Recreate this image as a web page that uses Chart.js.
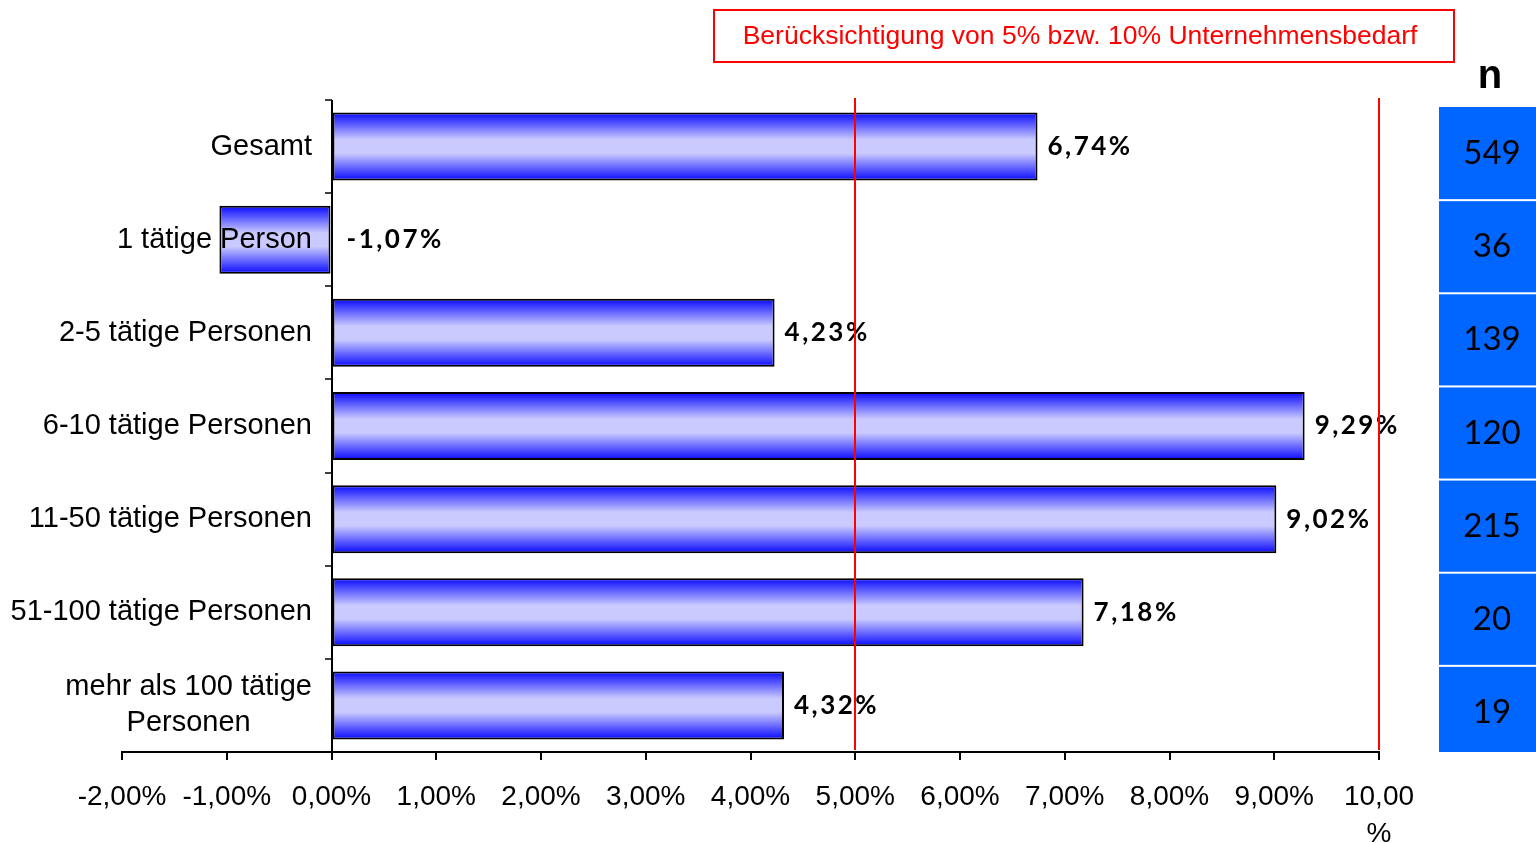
<!DOCTYPE html>
<html>
<head>
<meta charset="utf-8">
<script src="https://cdn.jsdelivr.net/npm/chart.js@4"></script>
<style>
  body { margin: 0; background: #fff; }
  #wrap { width: 1536px; height: 843px; }
</style>
</head>
<body>
<div id="wrap"><canvas id="myChart"></canvas></div>
<script>
const categories = ['Gesamt', '1 tätige Person', '2-5 tätige Personen', '6-10 tätige Personen',
  '11-50 tätige Personen', '51-100 tätige Personen', ['mehr als 100 tätige', 'Personen']];
const values = [6.74, -1.07, 4.23, 9.29, 9.02, 7.18, 4.32];
const counts = [549, 36, 139, 120, 215, 20, 19];
const thresholds = [5, 10];
const noteText = 'Berücksichtigung von 5% bzw. 10% Unternehmensbedarf';

const BAR_PCT = 0.73;

function fmt(v) {
  return v.toFixed(2).replace('.', ',') + '%';
}

function barFill(ctx) {
  const chart = ctx.chart;
  const area = chart.chartArea;
  if (!area || ctx.dataIndex === undefined) return '#3333ff';
  const cat = (area.bottom - area.top) / categories.length;
  const h = cat * BAR_PCT;
  const y = chart.scales.y.getPixelForValue(ctx.dataIndex);
  const g = chart.ctx.createLinearGradient(0, y - h / 2, 0, y + h / 2);
  g.addColorStop(0, '#0808ff');
  g.addColorStop(0.4, '#cacaff');
  g.addColorStop(0.6, '#cacaff');
  g.addColorStop(1, '#0808ff');
  return g;
}

const extrasPlugin = {
  id: 'extrasPlugin',
  afterDatasetsDraw(chart) {
    const { ctx, chartArea } = chart;
    const xs = chart.scales.x;
    const ys = chart.scales.y;
    const meta = chart.getDatasetMeta(0);
    const cat = (chartArea.bottom - chartArea.top) / categories.length;
    const zeroX = Math.round(xs.getPixelForValue(0));

    // category axis at zero, with ticks between categories
    ctx.save();
    ctx.strokeStyle = '#000';
    ctx.lineWidth = 2;
    ctx.beginPath();
    ctx.moveTo(zeroX, chartArea.top);
    ctx.lineTo(zeroX, chartArea.bottom);
    ctx.stroke();
    ctx.lineWidth = 1.5;
    for (let k = 0; k <= categories.length; k++) {
      const y = Math.round(chartArea.top + k * cat);
      ctx.beginPath();
      ctx.moveTo(zeroX - 7, y);
      ctx.lineTo(zeroX, y);
      ctx.stroke();
    }
    ctx.restore();

    // category labels
    ctx.save();
    ctx.fillStyle = '#000';
    ctx.font = '29px "Liberation Sans", Arial, sans-serif';
    ctx.textBaseline = 'middle';
    const right = zeroX - 20;
    categories.forEach((lab, i) => {
      const lines = Array.isArray(lab) ? lab : [lab];
      const y = ys.getPixelForValue(i);
      const lh = 36;
      const w = Math.max(...lines.map(l => ctx.measureText(l).width));
      ctx.textAlign = 'center';
      lines.forEach((l, k) => {
        ctx.fillText(l, right - w / 2, y + (k - (lines.length - 1) / 2) * lh);
      });
    });
    ctx.restore();

    // value labels
    ctx.save();
    ctx.fillStyle = '#000';
    ctx.font = 'bold 26px Lato';
    ctx.letterSpacing = '2.5px';
    ctx.textAlign = 'left';
    ctx.textBaseline = 'middle';
    meta.data.forEach((bar, i) => {
      const v = values[i];
      const x = v >= 0 ? bar.x + 10 : bar.base + 16;
      ctx.fillText(fmt(v), x, bar.y);
    });
    ctx.restore();

    // red threshold lines
    ctx.save();
    ctx.strokeStyle = '#ff0000';
    ctx.lineWidth = 2;
    thresholds.forEach(t => {
      const x = Math.round(xs.getPixelForValue(t));
      ctx.beginPath();
      ctx.moveTo(x, chartArea.top - 2);
      ctx.lineTo(x, chartArea.bottom - 2);
      ctx.stroke();
    });
    ctx.restore();

    // note box
    ctx.save();
    ctx.strokeStyle = '#ff0000';
    ctx.lineWidth = 2;
    ctx.strokeRect(714, 10, 740, 52);
    ctx.fillStyle = '#ff0000';
    ctx.font = '26.5px "Liberation Sans", Arial, sans-serif';
    ctx.textAlign = 'center';
    ctx.textBaseline = 'middle';
    ctx.fillText(noteText, 1080, 37);
    ctx.restore();

    // n column
    ctx.save();
    const off = 7;
    const colX = 1439;
    ctx.fillStyle = '#0066ff';
    ctx.fillRect(colX, chartArea.top + off, chart.width - colX, chartArea.bottom - chartArea.top - off);
    ctx.fillStyle = '#ffffff';
    for (let k = 1; k < categories.length; k++) {
      const y = chartArea.top + off + k * cat;
      ctx.fillRect(colX, y - 1, chart.width - colX, 2);
    }
    ctx.fillStyle = '#000';
    ctx.font = 'bold 40px "Liberation Sans", Arial, sans-serif';
    ctx.textAlign = 'center';
    ctx.textBaseline = 'middle';
    ctx.fillText('n', 1490, 77);
    ctx.font = '33px Lato';
    counts.forEach((c, i) => {
      ctx.fillText(String(c), 1492, ys.getPixelForValue(i) + off);
    });
    ctx.restore();
  }
};

new Chart(document.getElementById('myChart'), {
  type: 'bar',
  data: {
    labels: categories,
    datasets: [{
      data: values,
      backgroundColor: barFill,
      borderColor: '#000',
      borderWidth: 2,
      borderSkipped: false,
      barPercentage: BAR_PCT,
      categoryPercentage: 1
    }]
  },
  options: {
    indexAxis: 'y',
    responsive: true,
    maintainAspectRatio: false,
    animation: false,
    layout: {
      padding: { top: 100, right: 157, left: 122, bottom: 0 }
    },
    plugins: {
      legend: { display: false },
      tooltip: { enabled: false }
    },
    scales: {
      x: {
        min: -2,
        max: 10,
        afterFit(scale) { scale.height = 91; },
        grid: {
          drawOnChartArea: false,
          color: '#000',
          lineWidth: 2,
          tickLength: 8
        },
        border: { color: '#000', width: 2 },
        ticks: {
          stepSize: 1,
          autoSkip: false,
          maxRotation: 0,
          padding: 18,
          color: '#000',
          font: { family: '"Liberation Sans", Arial, sans-serif', size: 28, lineHeight: 1.35 },
          callback(v) {
            return v === 10 ? ['10,00', '%'] : fmt(v);
          }
        }
      },
      y: {
        display: false
      }
    }
  },
  plugins: [extrasPlugin]
});
</script>
</body>
</html>
